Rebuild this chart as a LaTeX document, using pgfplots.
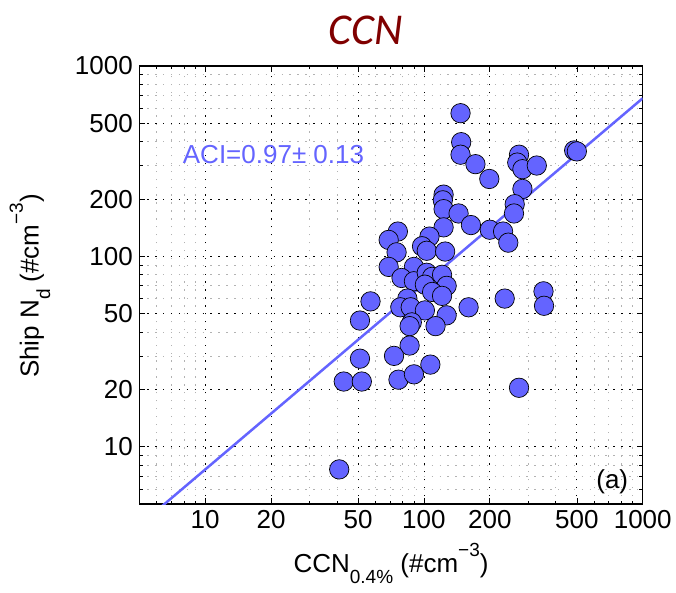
\documentclass[border=0pt]{standalone}
\usepackage{pgfplots}
\pgfplotsset{compat=1.18}
\usepackage{fontspec}
\setmainfont{Liberation Sans}
\newfontfamily\titlefont{Carlito}
\definecolor{mk}{RGB}{100,100,255}
\definecolor{ttl}{RGB}{128,0,0}
\newcommand{\mysub}[1]{\raisebox{-0.45em}{\fontsize{19}{22}\selectfont #1}}
\newcommand{\mysup}[1]{\raisebox{0.6em}{\fontsize{19}{22}\selectfont #1}}

\pgfplotstableread{
x y
147 565
148 398
147 342
172 305
199 255
272 342
267 311
282 287
328 300
486 360
500 356
282 226
260 188
258 168
123 211
122 197
123 177
144 168
164 146
200 138
230 135
243 118
123 142
106 127
98 113
103 107
125 106
76 135
69 122
75 105
69 88
90 88
79 77
90 74
103 82
109 78
121 80
127 70
101 71
109 65
121 62
84 60
78 54
87 54
101 52
127 49
57 58
51 46
88 45
86 43
113 43
160 54
234 60
352 65.5
354 55
86 34
73 30
51 29
107 27
43 22
52 22
76.5 22.5
90 24
272 20.4
41 7.6
}\ccndata

\begin{document}
\begin{tikzpicture}
\path[use as bounding box] (-139.3pt,-88pt) rectangle (536.7pt,504pt);
\begin{axis}[
  at={(0pt,0pt)}, anchor=south west,
  scale only axis, width=503.4pt, height=438pt,
  xmode=log, ymode=log,
  xmin=5, xmax=1000, ymin=5, ymax=1000,
  xtick={10,20,50,100,200,500,1000},
  xticklabels={10,20,50,100,200,500,1000},
  ytick={10,20,50,100,200,500,1000},
  yticklabels={10,20,50,100,200,500,1000},
  minor xtick={6,7,8,9,30,40,60,70,80,90,300,400,600,700,800,900},
  minor ytick={6,7,8,9,30,40,60,70,80,90,300,400,600,700,800,900},
  grid=both,
  major grid style={black, line width=0.75pt, dash pattern=on 1.4pt off 6.5pt},
  minor grid style={black!30, line width=0.7pt, dash pattern=on 1.4pt off 6.5pt},
  tick align=inside, major tick length=6pt, minor tick length=3.5pt,
  every tick/.style={black, line width=0.7pt},
  axis line style={line width=1.1pt},
  ticklabel style={font=\fontsize{26}{30}\selectfont},
  xticklabel style={yshift=-3pt},
  yticklabel style={xshift=-3pt},
  label style={font=\fontsize{26}{30}\selectfont},
  xlabel={CCN\mysub{0.4\%} (\#cm\mysup{−3})},
  ylabel={Ship N\mysub{d} (\#cm\mysup{−3})},
  xlabel style={at={(rel axis cs:0.5,-0.1553)}, anchor=base},
  ylabel style={at={(rel axis cs:-0.2002,0.4977)}, anchor=base},
  clip mode=individual,
]
\addplot[mk, line width=2.5pt] coordinates {(5,3.86) (1000,677)};
\addplot[only marks, mark=*, mark size=9.7pt,
  mark options={fill=mk, draw=black, line width=0.7pt}] table[x=x,y=y] {\ccndata};
\node[anchor=base west, text=mk, font=\fontsize{26}{30}\selectfont, inner sep=0pt]
  at (rel axis cs:0.0862,0.7779) {ACI=0.97± 0.13};
\node[anchor=base east, font=\fontsize{26}{30}\selectfont, inner sep=0pt]
  at (rel axis cs:0.9714,0.0365) {(a)};
\node[anchor=base, text=ttl, font=\titlefont\itshape\fontsize{44}{50}\selectfont, inner sep=0pt]
  at (rel axis cs:0.4503,1.0502) {CCN};
\end{axis}
\end{tikzpicture}
\end{document}
